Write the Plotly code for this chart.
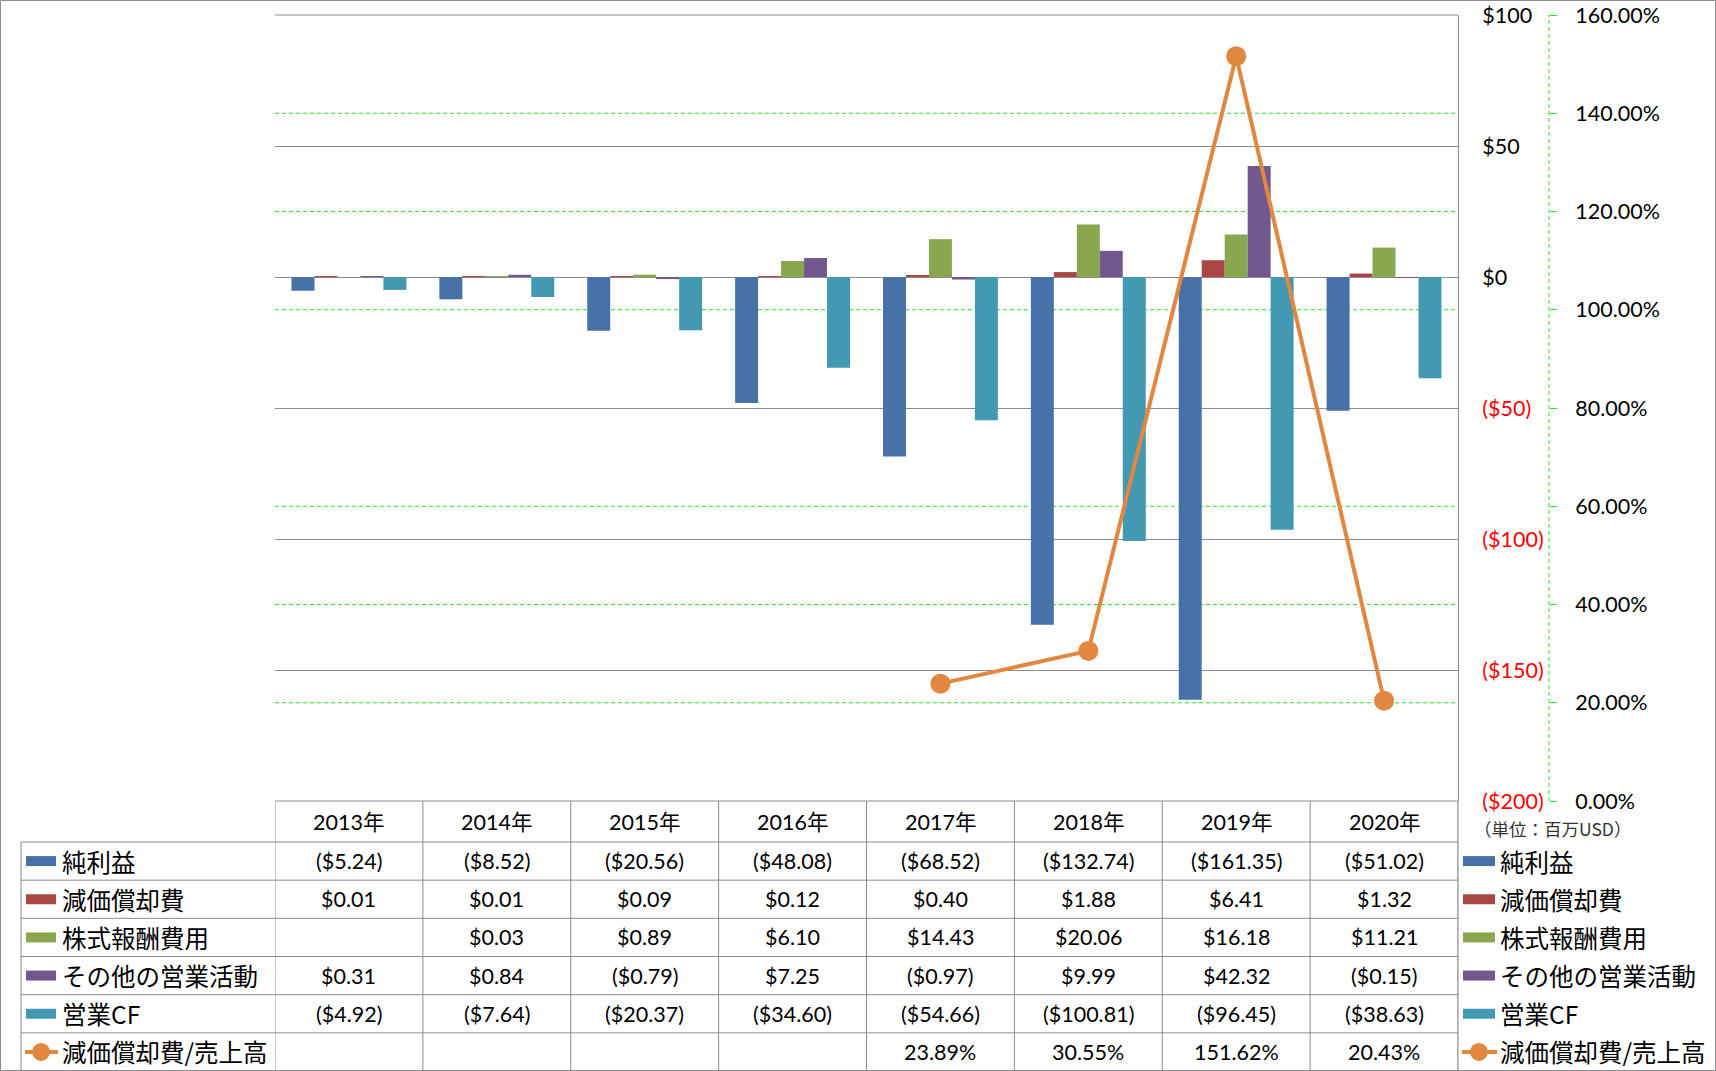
import plotly.graph_objects as go

# ---------------- data ----------------
years = ["2013年", "2014年", "2015年", "2016年", "2017年", "2018年", "2019年", "2020年"]
net_income = [-5.24, -8.52, -20.56, -48.08, -68.52, -132.74, -161.35, -51.02]
depreciation = [0.01, 0.01, 0.09, 0.12, 0.40, 1.88, 6.41, 1.32]
stock_comp = [None, 0.03, 0.89, 6.10, 14.43, 20.06, 16.18, 11.21]
other_ops = [0.31, 0.84, -0.79, 7.25, -0.97, 9.99, 42.32, -0.15]
operating_cf = [-4.92, -7.64, -20.37, -34.60, -54.66, -100.81, -96.45, -38.63]
dep_to_sales = [None, None, None, None, 23.89, 30.55, 151.62, 20.43]

bar_names = ["純利益", "減価償却費", "株式報酬費用", "その他の営業活動", "営業CF"]
line_name = "減価償却費/売上高"
y_ticks = [100, 50, 0, -50, -100, -150, -200]
y2_ticks = [0, 20, 40, 60, 80, 100, 120, 140, 160]
unit_label = "（単位：百万USD）"

# ---------------- styles ----------------
bar_colors = ["#4672A8", "#AA4643", "#8AA64F", "#71598F", "#4399B1"]
line_color = "#E2873F"
grid_gray = "#8C8C8C"
green = "#1EEB1E"
W, H = 1716, 1071
L, R, T, B = 275, 40, 15, 270
PW = W - L - R
PH = H - T - B
PLOT_RIGHT = 1458
Y2_LINE = 1549
Y_RANGE = [-200, 100]
Y2_RANGE = [0, 160]

def px(xp):
    return (xp - L) / PW

def py(yp):
    return (H - B - yp) / PH

FONT = "Lato, Noto Sans CJK JP, sans-serif"
JFONT = "Noto Sans CJK JP, sans-serif"
NUM_SIZE = 21.5
JP_SIZE = 24.5

def money(v):
    if v is None:
        return ""
    if v < 0:
        return f"(${abs(v):.2f})"
    return f"${v:.2f}"

def pct(v):
    return "" if v is None else f"{v:.2f}%"

fig = go.Figure()
series = [net_income, depreciation, stock_comp, other_ops, operating_cf]
for name, vals, col in zip(bar_names, series, bar_colors):
    fig.add_trace(go.Bar(x=years, y=vals, name=name, marker=dict(color=col, line=dict(width=0)),
                         showlegend=False))
fig.add_trace(go.Scatter(x=years, y=dep_to_sales, name=line_name, yaxis="y2", mode="lines+markers",
                         line=dict(color=line_color, width=4),
                         marker=dict(size=20, color=line_color), showlegend=False))

def ytxt(v):
    if v < 0:
        return f"<span style='color:#FF0000'>(${abs(v)})</span>"
    return f"${v}"

dom_r = px(PLOT_RIGHT)
fig.update_layout(
    width=W, height=H,
    margin=dict(l=L, r=R, t=T, b=B, autoexpand=False),
    paper_bgcolor="white", plot_bgcolor="rgba(0,0,0,0)",
    barmode="group", bargap=0.223, bargroupgap=0,
    font=dict(family=FONT, size=NUM_SIZE, color="#000000"),
    xaxis=dict(domain=[0, dom_r], showticklabels=False, ticks="", showgrid=False,
               showline=False, zeroline=False, range=[-0.5, 7.5], automargin=False),
    yaxis=dict(side="right", range=Y_RANGE, tickvals=y_ticks, automargin=False,
               ticktext=[ytxt(v) for v in y_ticks], showgrid=True, gridcolor=grid_gray,
               gridwidth=1, zeroline=False, showline=True, linecolor=grid_gray, linewidth=1,
               ticks="", ticklabelstandoff=19, tickfont=dict(size=NUM_SIZE, family=FONT)),
    yaxis2=dict(overlaying="y", side="right", anchor="free", position=px(Y2_LINE),
                range=Y2_RANGE, tickvals=y2_ticks, ticktext=[f"{v:.2f}%" for v in y2_ticks],
                showgrid=False, automargin=False,
                zeroline=False, showline=False, ticks="outside", ticklen=7, tickcolor=green,
                tickwidth=1, ticklabelstandoff=14, tickfont=dict(size=NUM_SIZE, family=FONT)),
)

# fractions along the axes, to skip green lines hidden under gray ones
y_fracs = [(t - Y_RANGE[0]) / (Y_RANGE[1] - Y_RANGE[0]) for t in y_ticks]

shapes = []
ln = dict(color=grid_gray, width=1)
for v in y2_ticks:
    f = (v - Y2_RANGE[0]) / (Y2_RANGE[1] - Y2_RANGE[0])
    if any(abs(f - g) < 1e-6 for g in y_fracs):
        continue
    shapes.append(dict(type="line", xref="paper", yref="y2", x0=0, x1=dom_r, y0=v, y1=v,
                       line=dict(color=green, width=1, dash="4px,3px"), layer="below"))
shapes.append(dict(type="line", xref="paper", yref="paper", x0=0, x1=dom_r, y0=1, y1=1, line=ln, layer="above"))
shapes.append(dict(type="line", xref="paper", yref="paper", x0=px(Y2_LINE), x1=px(Y2_LINE), y0=0, y1=1,
                   line=dict(color=green, width=1, dash="4px,3px"), layer="above"))
head_top = H - B
head_bot = 842
row_h = (H - head_bot) / 6
row_tops = [head_bot + i * row_h for i in range(7)]
left_x = 21
shapes.append(dict(type="line", xref="paper", yref="paper", x0=0, x1=dom_r, y0=py(head_top), y1=py(head_top), line=ln, layer="above"))
for yy in row_tops:
    shapes.append(dict(type="line", xref="paper", yref="paper", x0=px(left_x), x1=dom_r, y0=py(yy), y1=py(yy), line=ln, layer="above"))
for i in range(len(years) + 1):
    xv = i - 0.5
    shapes.append(dict(type="line", xref="x", yref="paper", x0=xv, x1=xv, y0=py(head_top), y1=py(H), line=ln, layer="above"))
shapes.append(dict(type="line", xref="paper", yref="paper", x0=dom_r, x1=dom_r, y0=py(head_top), y1=py(H), line=ln, layer="above"))
shapes.append(dict(type="line", xref="paper", yref="paper", x0=px(left_x), x1=px(left_x), y0=py(head_bot), y1=py(H), line=ln, layer="above"))
shapes.append(dict(type="rect", xref="paper", yref="paper", x0=px(0.5), x1=px(W - 0.5), y0=py(H - 0.5), y1=py(0.5),
                   line=dict(color=grid_gray, width=1), layer="above"))

annotations = []
for yr in years:
    annotations.append(dict(x=yr, xref="x", y=py((head_top + head_bot) / 2), yref="paper", text=yr,
                            showarrow=False, font=dict(size=NUM_SIZE, family=FONT), xanchor="center", yanchor="middle"))

row_texts = [[money(v) for v in s] for s in series] + [[pct(v) for v in dep_to_sales]]
all_names = bar_names + [line_name]
key_specs = [(26, 56, 60), (1463, 1495, 1498)]
for r, (name, texts) in enumerate(zip(all_names, row_texts)):
    yc = (row_tops[r] + row_tops[r + 1]) / 2
    for yr, t in zip(years, texts):
        if t:
            annotations.append(dict(x=yr, xref="x", y=py(yc), yref="paper", text=t, showarrow=False,
                                    font=dict(size=NUM_SIZE, family=FONT), xanchor="center", yanchor="middle"))
    for kx0, kx1, tx in key_specs:
        if r < 5:
            shapes.append(dict(type="rect", xref="paper", yref="paper", x0=px(kx0), x1=px(kx1),
                               y0=py(yc + 5), y1=py(yc - 5), fillcolor=bar_colors[r], line=dict(width=0), layer="above"))
        else:
            shapes.append(dict(type="line", xref="paper", yref="paper", x0=px(kx0 - 1), x1=px(kx1 + 2),
                               y0=py(yc), y1=py(yc), line=dict(color=line_color, width=4), layer="above"))
            cx = (kx0 + kx1) / 2
            shapes.append(dict(type="circle", xref="paper", yref="paper", x0=px(cx - 9), x1=px(cx + 9),
                               y0=py(yc + 9), y1=py(yc - 9), fillcolor=line_color, line=dict(width=0), layer="above"))
        annotations.append(dict(x=px(tx), xref="paper", y=py(yc), yref="paper", text=name, showarrow=False,
                                font=dict(size=JP_SIZE, family=JFONT), xanchor="left", yanchor="middle"))

annotations.append(dict(x=px(1472), xref="paper", y=py(828), yref="paper", text=unit_label, showarrow=False,
                        font=dict(size=17.5, family=JFONT, color="#333333"), xanchor="left", yanchor="middle"))

fig.update_layout(shapes=shapes, annotations=annotations)
fig.write_html("out.html", config={"displayModeBar": False},
               post_script="document.body.style.margin='0px';document.body.style.overflow='hidden';")
